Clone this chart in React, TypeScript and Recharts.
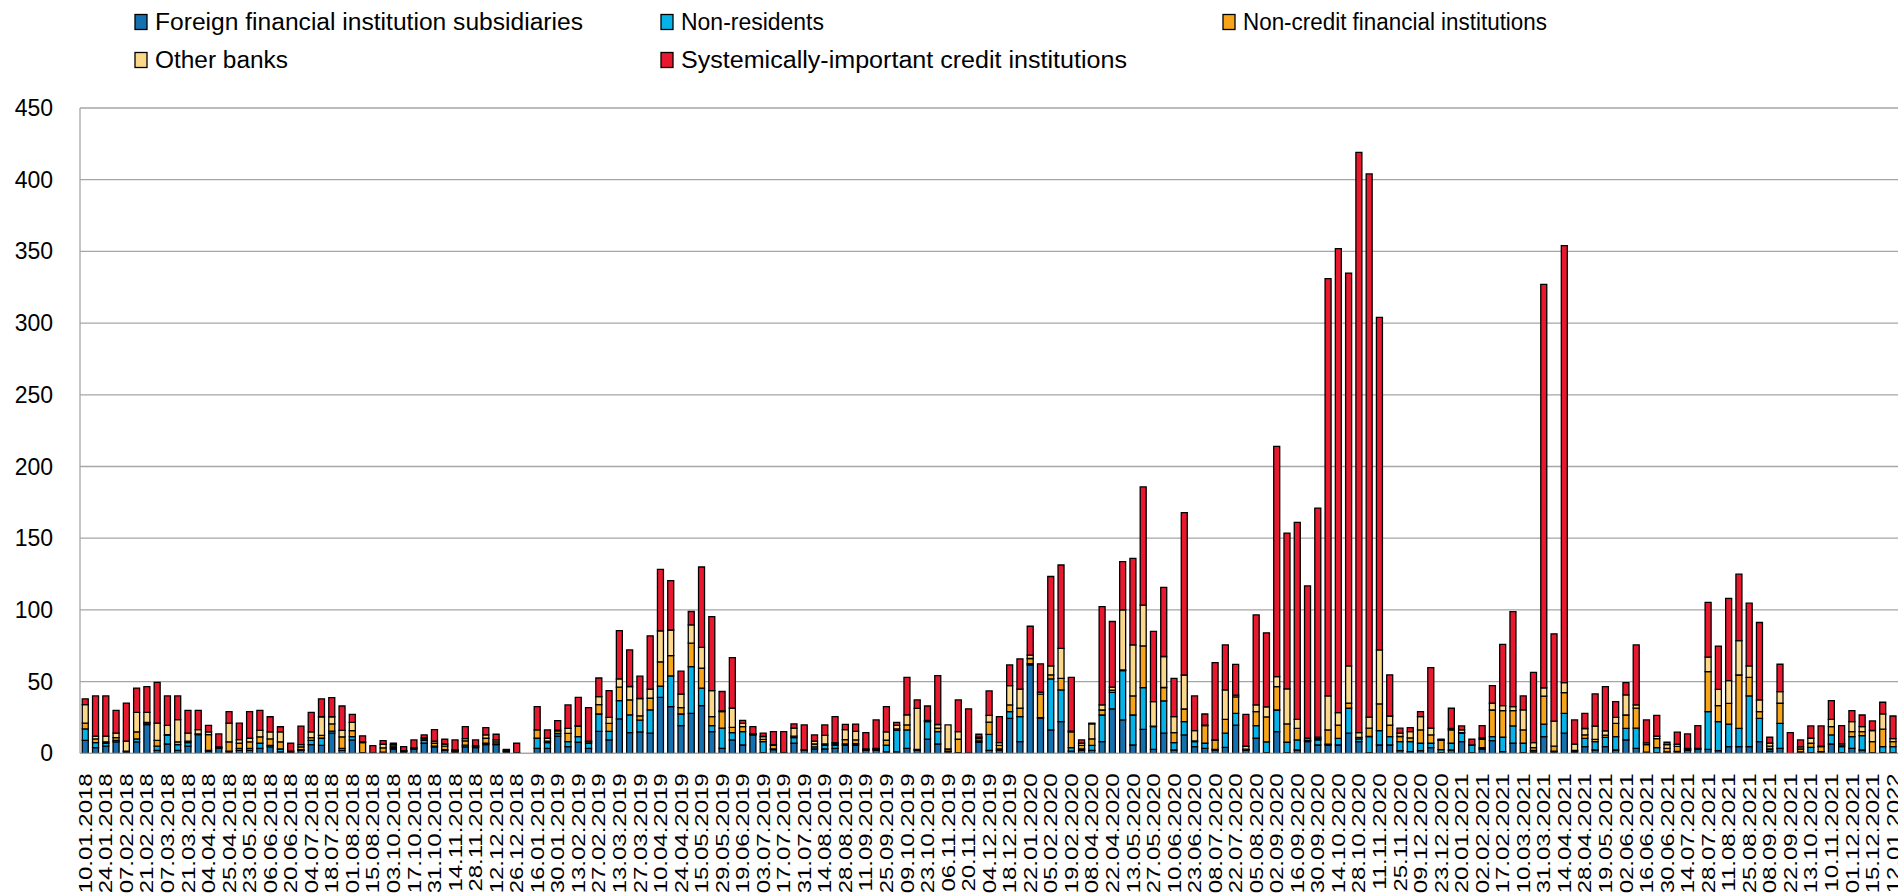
import React from 'react';
import { BarChart, Bar, XAxis, YAxis, CartesianGrid } from 'recharts';

// weekly observation dates (every other one is labelled on the axis)
const dates = [
  '10.01.2018', '17.01.2018', '24.01.2018', '31.01.2018', '07.02.2018', '14.02.2018', '21.02.2018', '28.02.2018',
  '07.03.2018', '14.03.2018', '21.03.2018', '28.03.2018', '04.04.2018', '11.04.2018', '25.04.2018', '09.05.2018',
  '23.05.2018', '30.05.2018', '06.06.2018', '13.06.2018', '20.06.2018', '27.06.2018', '04.07.2018', '11.07.2018',
  '18.07.2018', '25.07.2018', '01.08.2018', '08.08.2018', '15.08.2018', '22.08.2018', '03.10.2018', '10.10.2018',
  '17.10.2018', '24.10.2018', '31.10.2018', '07.11.2018', '14.11.2018', '21.11.2018', '28.11.2018', '05.12.2018',
  '12.12.2018', '19.12.2018', '26.12.2018', '09.01.2019', '16.01.2019', '23.01.2019', '30.01.2019', '06.02.2019',
  '13.02.2019', '20.02.2019', '27.02.2019', '06.03.2019', '13.03.2019', '20.03.2019', '27.03.2019', '03.04.2019',
  '10.04.2019', '17.04.2019', '24.04.2019', '08.05.2019', '15.05.2019', '22.05.2019', '29.05.2019', '05.06.2019',
  '19.06.2019', '26.06.2019', '03.07.2019', '10.07.2019', '17.07.2019', '24.07.2019', '31.07.2019', '07.08.2019',
  '14.08.2019', '21.08.2019', '28.08.2019', '04.09.2019', '11.09.2019', '18.09.2019', '25.09.2019', '02.10.2019',
  '09.10.2019', '16.10.2019', '23.10.2019', '30.10.2019', '06.11.2019', '13.11.2019', '20.11.2019', '27.11.2019',
  '04.12.2019', '11.12.2019', '18.12.2019', '25.12.2019', '22.01.2020', '29.01.2020', '05.02.2020', '12.02.2020',
  '19.02.2020', '26.02.2020', '08.04.2020', '15.04.2020', '22.04.2020', '29.04.2020', '13.05.2020', '20.05.2020',
  '27.05.2020', '03.06.2020', '10.06.2020', '17.06.2020', '23.06.2020', '01.07.2020', '08.07.2020', '15.07.2020',
  '22.07.2020', '29.07.2020', '05.08.2020', '19.08.2020', '02.09.2020', '09.09.2020', '16.09.2020', '23.09.2020',
  '30.09.2020', '07.10.2020', '14.10.2020', '21.10.2020', '28.10.2020', '04.11.2020', '11.11.2020', '18.11.2020',
  '25.11.2020', '02.12.2020', '09.12.2020', '16.12.2020', '23.12.2020', '13.01.2021', '20.01.2021', '27.01.2021',
  '02.02.2021', '10.02.2021', '17.02.2021', '24.02.2021', '10.03.2021', '17.03.2021', '31.03.2021', '07.04.2021',
  '14.04.2021', '21.04.2021', '28.04.2021', '05.05.2021', '19.05.2021', '26.05.2021', '02.06.2021', '09.06.2021',
  '16.06.2021', '23.06.2021', '30.06.2021', '07.07.2021', '14.07.2021', '21.07.2021', '28.07.2021', '04.08.2021',
  '11.08.2021', '18.08.2021', '25.08.2021', '01.09.2021', '08.09.2021', '15.09.2021', '22.09.2021', '29.09.2021',
  '13.10.2021', '27.10.2021', '10.11.2021', '17.11.2021', '01.12.2021', '08.12.2021', '15.12.2021', '22.12.2021',
  '12.01.2022',
];

const foreignSubs = [
  9, 4, 5, 8, 1, 8, 20, 2, 6.5, 2, 5, 13, 1.5, 3.5, 1, 2, 2, 3.5, 4.5, 1, 0.5, 2, 6, 5.5,
  14, 2, 9.3, 0.5, 0.3, 0.5, 3, 1, 3, 7, 4.5, 2, 1, 4.5, 4, 6, 6, 1, 0.5, 0,
  3.5, 3.5, 12, 4.6, 7.7, 3.5, 15.3, 9.3, 24, 14.4, 15, 14, 39, 32.6, 19.3, 27.9, 33.3, 15.1, 3.5, 9.3,
  5.8, 12.8, 0.5, 2.5, 0.5, 7, 2, 3, 3, 3.5, 5.5, 5.8, 2, 2, 1, 1, 3.5, 2, 9.8, 6.5,
  1, 0.3, 0.3, 7.7, 2, 2, 24.4, 8.1, 61.6, 24.4, 16.3, 22.1, 1.5, 2, 2, 8.1, 31, 23.3, 5.8, 16.7,
  2.8, 14, 2.3, 12.8, 4.6, 3.5, 2.3, 4.2, 19.7, 2.3, 10.5, 0.5, 15.1, 0.5, 2.3, 8.1, 5.8, 5.8, 5.8, 14,
  8.1, 0.5, 5.8, 5.8, 1.9, 1.2, 1.9, 4, 0.5, 2.3, 8.1, 0.5, 3, 8.8, 1.2, 7, 0.5, 1, 11.6, 1,
  14, 1, 4.6, 2.3, 4.6, 2.3, 9.3, 3.5, 0.5, 0.5, 0.5, 1, 2, 3, 2.8, 1.9, 4.6, 4.6, 4.6, 8.1,
  1.5, 3.5, 0, 0.5, 0.5, 1, 6.5, 0.5, 3.5, 2.3, 0.5, 0.5, 0.5,
];

const nonResidents = [
  8, 3.5, 2, 1, 0, 2, 1, 3, 6, 4, 2.5, 0.5, 0.5, 0, 0.5, 1.5, 1.5, 3.5, 1, 2, 0, 0.5, 3, 5,
  1.5, 1.5, 2.3, 0, 0, 0.3, 1, 0.3, 0.5, 2, 0.5, 0.5, 0.5, 1.2, 0.5, 1, 0.5, 0.3, 0, 0,
  7, 4, 1.8, 3.5, 3.9, 3.5, 12.1, 6, 12.8, 12.4, 8.1, 16.3, 7.9, 21.4, 8.1, 32.6, 12.1, 4.2, 14, 5.1,
  9.3, 0.3, 7.7, 0.5, 0, 4, 0.5, 1.5, 2.5, 2, 1, 1, 0.5, 0.5, 4.6, 15, 12.8, 0.3, 12.3, 8.6,
  0.5, 0.2, 0, 1, 11.2, 1, 4.7, 17.5, 1, 0.5, 35.6, 22.1, 2.5, 1, 3.5, 18.6, 11.5, 34.3, 20.9, 29.1,
  15.8, 22.6, 5.1, 9.3, 3.5, 3.5, 0.5, 9.8, 8.1, 0.3, 8.8, 7.5, 15.1, 7.2, 7, 0.5, 3.5, 0.5, 4.6, 17.4,
  2, 11.2, 10, 5.8, 6.3, 7, 5.1, 3, 2, 4.7, 5.8, 5.3, 1, 2.8, 10, 12.1, 6.5, 1, 8.8, 0.5,
  13.9, 0.5, 5.8, 5.8, 6.5, 9.3, 8.1, 14, 0.3, 3.5, 0.5, 0.3, 0.5, 0.5, 26.3, 20.2, 15.8, 12.8, 35.4, 16.3,
  1.5, 17.4, 0, 0.5, 3.7, 0.2, 6.3, 4.2, 8.1, 10, 0, 4.2, 4.2,
];

const nonCredit = [
  4, 2.5, 1, 2, 0.5, 5, 0.5, 4, 0.5, 2, 1, 0, 11, 0.5, 6.5, 3.5, 4.5, 4.5, 4.5, 5, 0.5, 2, 2, 2,
  5, 8, 4.2, 7, 0, 3, 1, 0.3, 0, 1, 2, 2.5, 0.5, 3, 0.5, 3.5, 1.5, 0.5, 0, 0,
  5.8, 1, 1.9, 5.8, 7.2, 1.2, 6.5, 5.6, 9.3, 10.5, 3, 8.1, 16.9, 14.1, 4.4, 16.3, 14, 6.3, 11.6, 3.7,
  3.5, 0.3, 1.5, 2.5, 0, 1, 0, 2, 1, 1, 3, 2.5, 0, 0.5, 3.5, 1, 3.5, 0.5, 0.5, 2.5,
  1.5, 9.3, 0, 1.5, 8.6, 2.5, 4.6, 5.8, 3.5, 16.3, 2.8, 8.1, 10.9, 2.5, 4.6, 3.5, 1.6, 0.5, 13.3, 29.1,
  0.3, 9.3, 7, 8.8, 0.5, 12.3, 6.2, 9.7, 11.6, 0.3, 9.8, 17.4, 16.3, 12.8, 8.1, 0.5, 1, 10, 9.3, 3.5,
  1, 5.8, 18.6, 8.1, 3.5, 2.5, 9.3, 5.8, 6.5, 9.3, 0.5, 0, 5.8, 18.6, 18.6, 10.7, 9.3, 2, 19.5, 3.5,
  14.4, 0.5, 2.5, 1.6, 1.6, 9.3, 9.3, 14, 5.3, 6.3, 2.5, 3.5, 0.5, 0, 27.9, 11.2, 14.4, 37.2, 13, 4.6,
  2, 14, 0, 2, 2.8, 3.5, 5.8, 1, 3.5, 2.8, 7.7, 12.1, 3.5,
];

const otherBanks = [
  13, 2, 4, 3, 7, 13.5, 7, 12, 6.5, 15.5, 5.5, 3, 2, 0.5, 13, 2.5, 2.5, 4.5, 5, 7, 0.5, 1.5, 4, 13,
  5, 4.5, 5.8, 0.5, 0, 2.5, 1, 0.3, 0.3, 1, 1.5, 1.5, 0.3, 1.5, 0.3, 2.3, 1.3, 0.5, 0, 0,
  0, 2, 0.5, 3.5, 0.5, 0.2, 5.6, 4.2, 5.8, 9.3, 12.1, 6.3, 21.6, 17.9, 9.5, 12.8, 14.4, 18.1, 0.5, 13.3,
  2.3, 0.2, 2, 0.5, 0, 5.5, 0, 2, 6, 1, 7, 6, 0.5, 0.5, 5.8, 2.5, 7, 28.5, 0.3, 2.5,
  16.8, 5.3, 0, 1, 4.7, 2, 13.5, 13.3, 2.3, 1.5, 6.3, 20.9, 0.5, 1.5, 10.5, 3.5, 2, 42, 35.6, 28.4,
  17.1, 21.6, 11.2, 23.7, 7.2, 0.3, 0.3, 20.5, 1.2, 2, 4.6, 7, 7, 24.4, 6.3, 1.5, 1, 23.7, 8.7, 26,
  3.3, 7.7, 37.7, 6.3, 2.3, 4.4, 9.3, 4.7, 0.5, 1, 1.9, 0, 1, 4.7, 3.5, 2.8, 14, 3.5, 5.8, 17.4,
  7, 4.4, 4.4, 9.3, 3, 4.2, 14, 2.3, 1.2, 1.6, 2.5, 1.5, 0.5, 0, 10, 11.3, 15.9, 24, 7.9, 8.2,
  2, 8.1, 0, 1.5, 3.5, 0.3, 5.1, 1, 7, 3.5, 7.7, 10.7, 2,
];

const systemic = [
  4, 28, 28, 16, 26.5, 17, 18, 28.5, 20.5, 16.5, 16, 13.5, 4.5, 9, 8, 11.5, 18.5, 14, 10.5, 3.5, 5.5, 13, 13.5, 12.5,
  13.3, 17, 5.6, 4.2, 5, 2.5, 1, 2.7, 5.5, 1.8, 8, 3.3, 7, 8.4, 4, 5.1, 4, 0.5, 6.5, 0,
  16.3, 5.8, 6.6, 16.3, 19.7, 23.5, 13, 18.6, 33.7, 25.5, 15.6, 37.2, 42.8, 34.4, 16, 9.3, 56.1, 51.6, 13.5, 35.3,
  2, 5, 2.3, 9.1, 14.6, 3, 17.3, 4.3, 7.3, 18.1, 3.7, 5.1, 11.4, 19.8, 17.7, 2.1, 26.2, 5.9, 10.1, 34.1,
  0, 22.1, 30.7, 2.1, 17, 18.1, 14.4, 21.2, 20.2, 19.7, 62.3, 58.1, 37.6, 2.3, 0.4, 68.6, 45.8, 33.6, 60.4, 82.5,
  49, 48.2, 26.7, 113.3, 24.2, 7.8, 54, 31.4, 21.4, 22.3, 62.8, 51.6, 160.5, 108.7, 137.3, 106.1, 159.7, 291, 323.6, 274,
  404.6, 378.8, 231.9, 28.7, 3.5, 2.8, 3.5, 42.3, 0.3, 14.1, 2.8, 4, 8.5, 12.3, 42.7, 66.2, 9.7, 49, 281.3, 60.9,
  304.7, 16.9, 10.6, 22.4, 30.8, 10.9, 8.6, 41.8, 16, 14.6, 1.7, 8.4, 10, 15.8, 38.3, 30.2, 57.4, 46.3, 43.8, 54,
  4.2, 19.1, 14.4, 4.8, 8.6, 14.1, 13, 12.6, 7.7, 8.1, 6.7, 8.1, 15.8,
];

const yTicks = [0, 50, 100, 150, 200, 250, 300, 350, 400, 450];

const series = [
  { key: 'foreign', name: 'Foreign financial institution subsidiaries', color: '#1570B0', values: foreignSubs },
  { key: 'nonres', name: 'Non-residents', color: '#05B3E8', values: nonResidents },
  { key: 'noncredit', name: 'Non-credit financial institutions', color: '#F6A51A', values: nonCredit },
  { key: 'other', name: 'Other banks', color: '#FBD78A', values: otherBanks },
  { key: 'systemic', name: 'Systemically-important credit institutions', color: '#E8192F', values: systemic },
];

// legend placement: [x of marker, y centre, text width]
const legendSlots = [
  [135, 22, 428],
  [661, 22, 143],
  [1223, 22, 304],
  [135, 60, 133],
  [661, 60, 446],
];

const data = dates.map((date, i) => {
  const row: Record<string, string | number> = { date };
  series.forEach(s => { row[s.key] = s.values[i]; });
  return row;
});

const FONT = '"Liberation Sans", Arial, sans-serif';

const DateTick = ({ x, y, payload }: any) => (
  <g transform={`translate(${x},${y + 20})`}>
    <text transform="rotate(-90) scale(1,0.8)" textAnchor="end" dy="0.35em"
      fontSize={24} fontFamily={FONT} fill="#000">
      {payload.value}
    </text>
  </g>
);

const ValueTick = ({ x, y, payload }: any) => (
  <text x={x} y={y} textAnchor="end" dy="0.35em" fontSize={23} fontFamily={FONT} fill="#000">
    {payload.value}
  </text>
);

const App: React.FC = () => {
  return (
    <div style={{ position: 'absolute', left: 0, top: 0, width: 1898, height: 894, overflow: 'hidden', background: '#fff' }}>
      <BarChart width={1898} height={894} data={data}
        margin={{ top: 108, right: 0, left: 0, bottom: 0 }}
        barCategoryGap="22%">
        <CartesianGrid vertical={false} stroke="#A6A6A6" strokeWidth={1.3} />
        <XAxis dataKey="date" interval={1} height={140.7} tickLine={false} tickSize={0} tickMargin={0}
          axisLine={{ stroke: '#A6A6A6', strokeWidth: 1.3 }} tick={<DateTick />} />
        <YAxis width={80} domain={[0, 450]} ticks={yTicks} tickLine={false} tickSize={0} tickMargin={27}
          axisLine={{ stroke: '#A6A6A6', strokeWidth: 1.3 }} tick={<ValueTick />} allowDataOverflow />
        {series.map(s => (
          <Bar key={s.key} dataKey={s.key} name={s.name} stackId="a" fill={s.color}
            stroke="#000" strokeWidth={1.3} isAnimationActive={false} />
        ))}
      </BarChart>
      <svg width={1898} height={90} style={{ position: 'absolute', left: 0, top: 0, pointerEvents: 'none' }}>
        {series.map((s, i) => {
          const [lx, ly, tw] = legendSlots[i];
          return (
            <g key={s.key}>
              <rect x={lx} y={ly - 7.5} width={12} height={15} fill={s.color} stroke="#000" strokeWidth={1.3} />
              <text x={lx + 20} y={ly} dy="0.35em" fontSize={23} fontFamily={FONT} fill="#000"
                textLength={tw} lengthAdjust="spacingAndGlyphs">
                {s.name}
              </text>
            </g>
          );
        })}
      </svg>
    </div>
  );
};

export default App;
